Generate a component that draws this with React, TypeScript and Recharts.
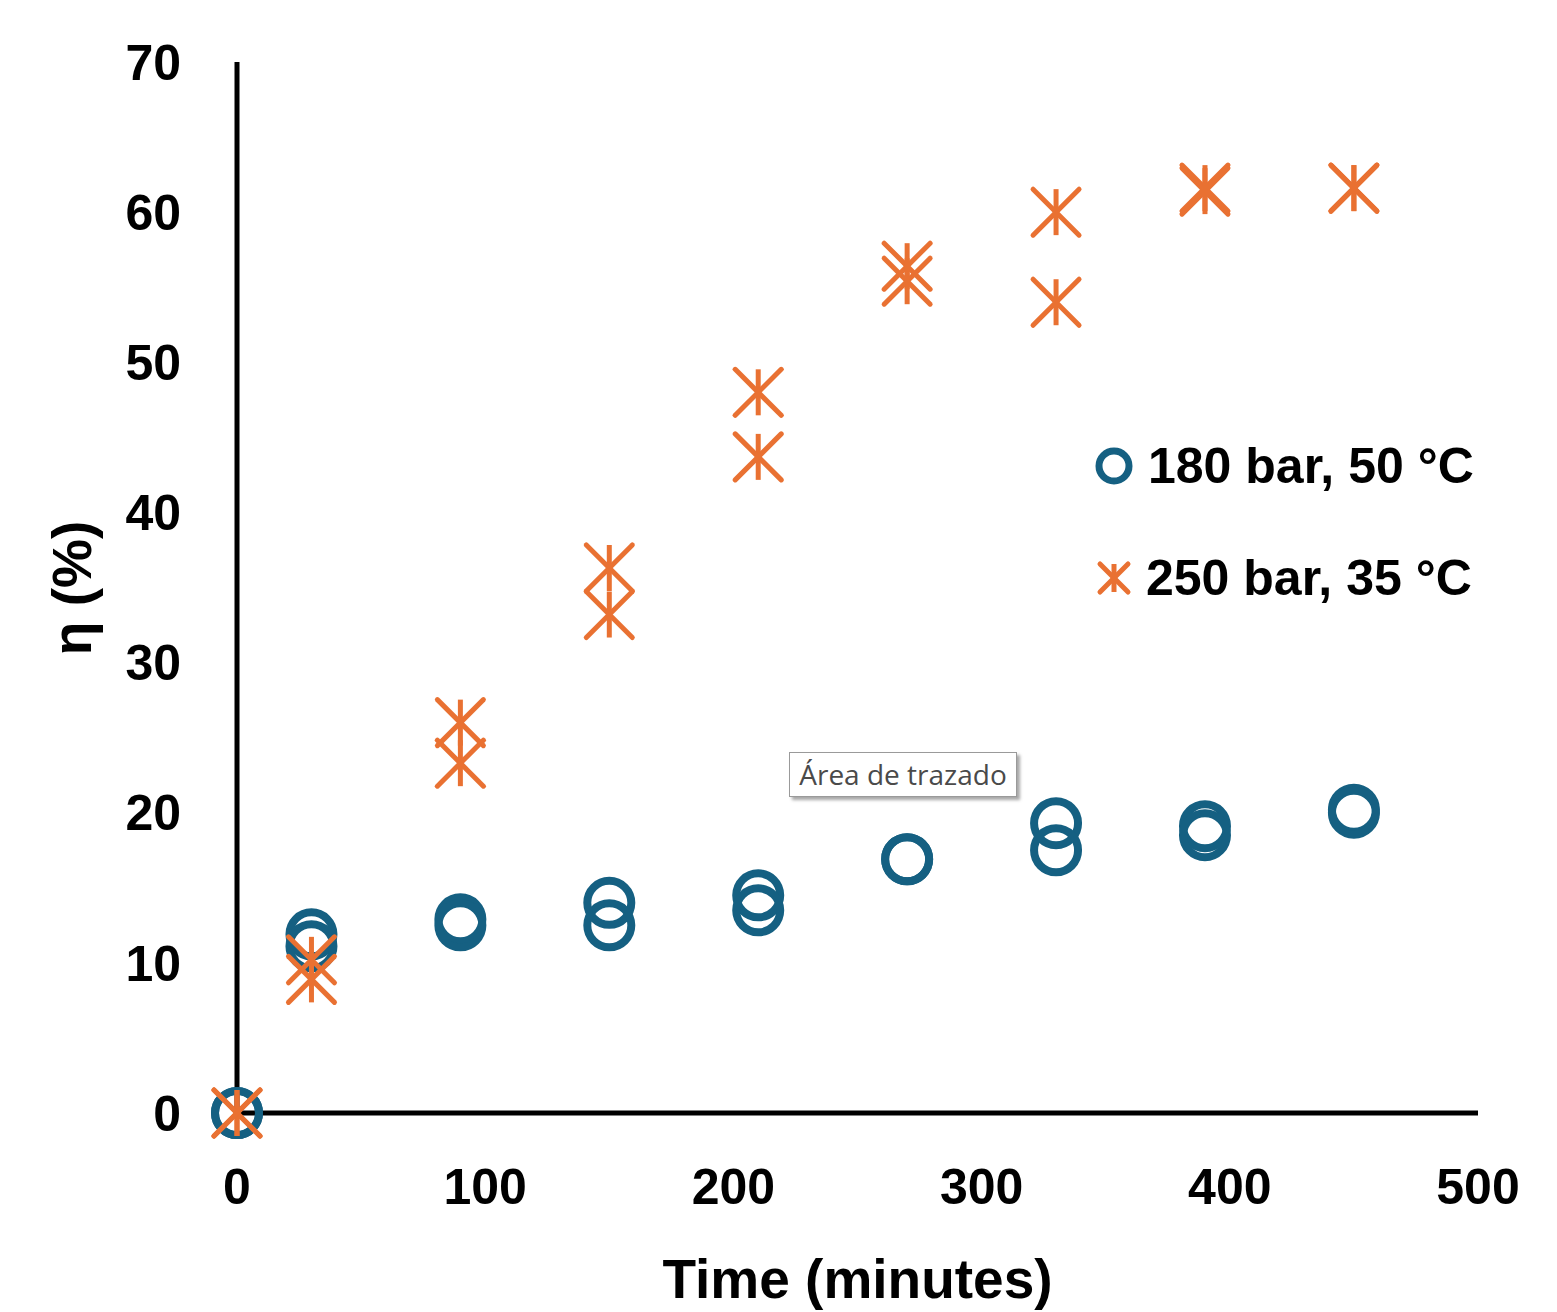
import React from 'react';
import { ScatterChart, Scatter, XAxis, YAxis } from 'recharts';

// sampling times (minutes)
const times = [0, 30, 90, 150, 210, 270, 330, 390, 450];

// 180 bar, 50 °C — two replicate runs
const run180a = [0, 11.9, 12.9, 14.0, 14.5, 16.9, 19.3, 19.1, 20.2];
const run180b = [0, 11.1, 12.5, 12.5, 13.5, 16.9, 17.5, 18.5, 20.0];

// 250 bar, 35 °C — two replicate runs
const run250a = [0, 10.2, 26.0, 36.3, 48.0, 56.4, 60.0, 61.6, 61.6];
const run250b = [0, 8.9, 23.3, 33.2, 43.7, 55.4, 54.0, 61.4, 61.6];

const xTicks = [0, 100, 200, 300, 400, 500];
const yTicks = [0, 10, 20, 30, 40, 50, 60, 70];

const BLUE = '#156082';
const ORANGE = '#E97132';
const FONT = '"Liberation Sans", Arial, sans-serif';

const toPoints = (vals: number[]) => times.map((t, i) => ({ x: t, y: vals[i] }));
const blueData = [...toPoints(run180a), ...toPoints(run180b)];
const orangeData = [...toPoints(run250a), ...toPoints(run250b)];

const Ring = (props: any) => (
  <circle cx={props.cx} cy={props.cy} r={22} fill="none" stroke={BLUE} strokeWidth={8} />
);

const Star = ({ cx, cy, s = 23, w = 5 }: any) => (
  <g stroke={ORANGE} strokeWidth={w} strokeLinecap="round">
    <line x1={cx} y1={cy - s} x2={cx} y2={cy + s} strokeLinecap="butt" />
    <line x1={cx - s} y1={cy - s} x2={cx + s} y2={cy + s} />
    <line x1={cx - s} y1={cy + s} x2={cx + s} y2={cy - s} />
  </g>
);

const LegendBox = () => (
  <svg width={420} height={190} style={{ display: 'block' }}>
    <circle cx={34} cy={36} r={15} fill="none" stroke={BLUE} strokeWidth={7} />
    <text x={68} y={36} dominantBaseline="central" fontFamily={FONT} fontWeight={700} fontSize={50} fill="#000">
      180 bar, 50 °C
    </text>
    <Star cx={34} cy={148} s={14} w={5} />
    <text x={66} y={148} dominantBaseline="central" fontFamily={FONT} fontWeight={700} fontSize={50} fill="#000">
      250 bar, 35 °C
    </text>
  </svg>
);

export default function App() {
  return (
    <div style={{ position: 'absolute', left: 0, top: 0, width: 1557, height: 1312, background: '#fff' }}>
      <ScatterChart width={1557} height={1312} margin={{ top: 62, right: 79, bottom: 0, left: 0 }}>
        <XAxis
          type="number"
          dataKey="x"
          domain={[0, 500]}
          ticks={xTicks}
          height={199}
          tickSize={0}
          tickMargin={55}
          axisLine={{ stroke: '#000', strokeWidth: 5 }}
          tickLine={false}
          tick={{ fontFamily: FONT, fontWeight: 700, fontSize: 50, fill: '#000' }}
          label={{
            value: 'Time (minutes)',
            position: 'insideBottom',
            offset: 14,
            style: { fontFamily: FONT, fontWeight: 700, fontSize: 55, fill: '#000' },
          }}
        />
        <YAxis
          type="number"
          dataKey="y"
          domain={[0, 70]}
          ticks={yTicks}
          width={237}
          tickSize={0}
          tickMargin={56}
          axisLine={{ stroke: '#000', strokeWidth: 5 }}
          tickLine={false}
          tick={{ fontFamily: FONT, fontWeight: 700, fontSize: 50, fill: '#000' }}
          label={{
            content: () => (
              <text
                x={72}
                y={588}
                transform="rotate(-90 72 588)"
                textAnchor="middle"
                dominantBaseline="central"
                fontFamily={FONT}
                fontWeight={700}
                fontSize={55}
                fill="#000"
              >
                η (%)
              </text>
            ),
          }}
        />
        <Scatter name="180 bar, 50 °C" data={blueData} shape={Ring} isAnimationActive={false} />
        <Scatter name="250 bar, 35 °C" data={orangeData} shape={(p: any) => <Star cx={p.cx} cy={p.cy} />} isAnimationActive={false} />
      </ScatterChart>
      <div style={{ position: 'absolute', left: 1080, top: 430 }}>
        <LegendBox />
      </div>
      <div
        style={{
          position: 'absolute',
          left: 789,
          top: 752,
          width: 226,
          height: 43,
          border: '1px solid #9a9a9a',
          background: '#fff',
          boxShadow: '3px 3px 3px rgba(0,0,0,0.35)',
          fontFamily: '"Open Sans", "Noto Sans", sans-serif',
          fontSize: 28,
          color: '#4a4a4a',
          lineHeight: '43px',
          textAlign: 'center',
          whiteSpace: 'nowrap',
        }}
      >
        Área de trazado
      </div>
    </div>
  );
}
